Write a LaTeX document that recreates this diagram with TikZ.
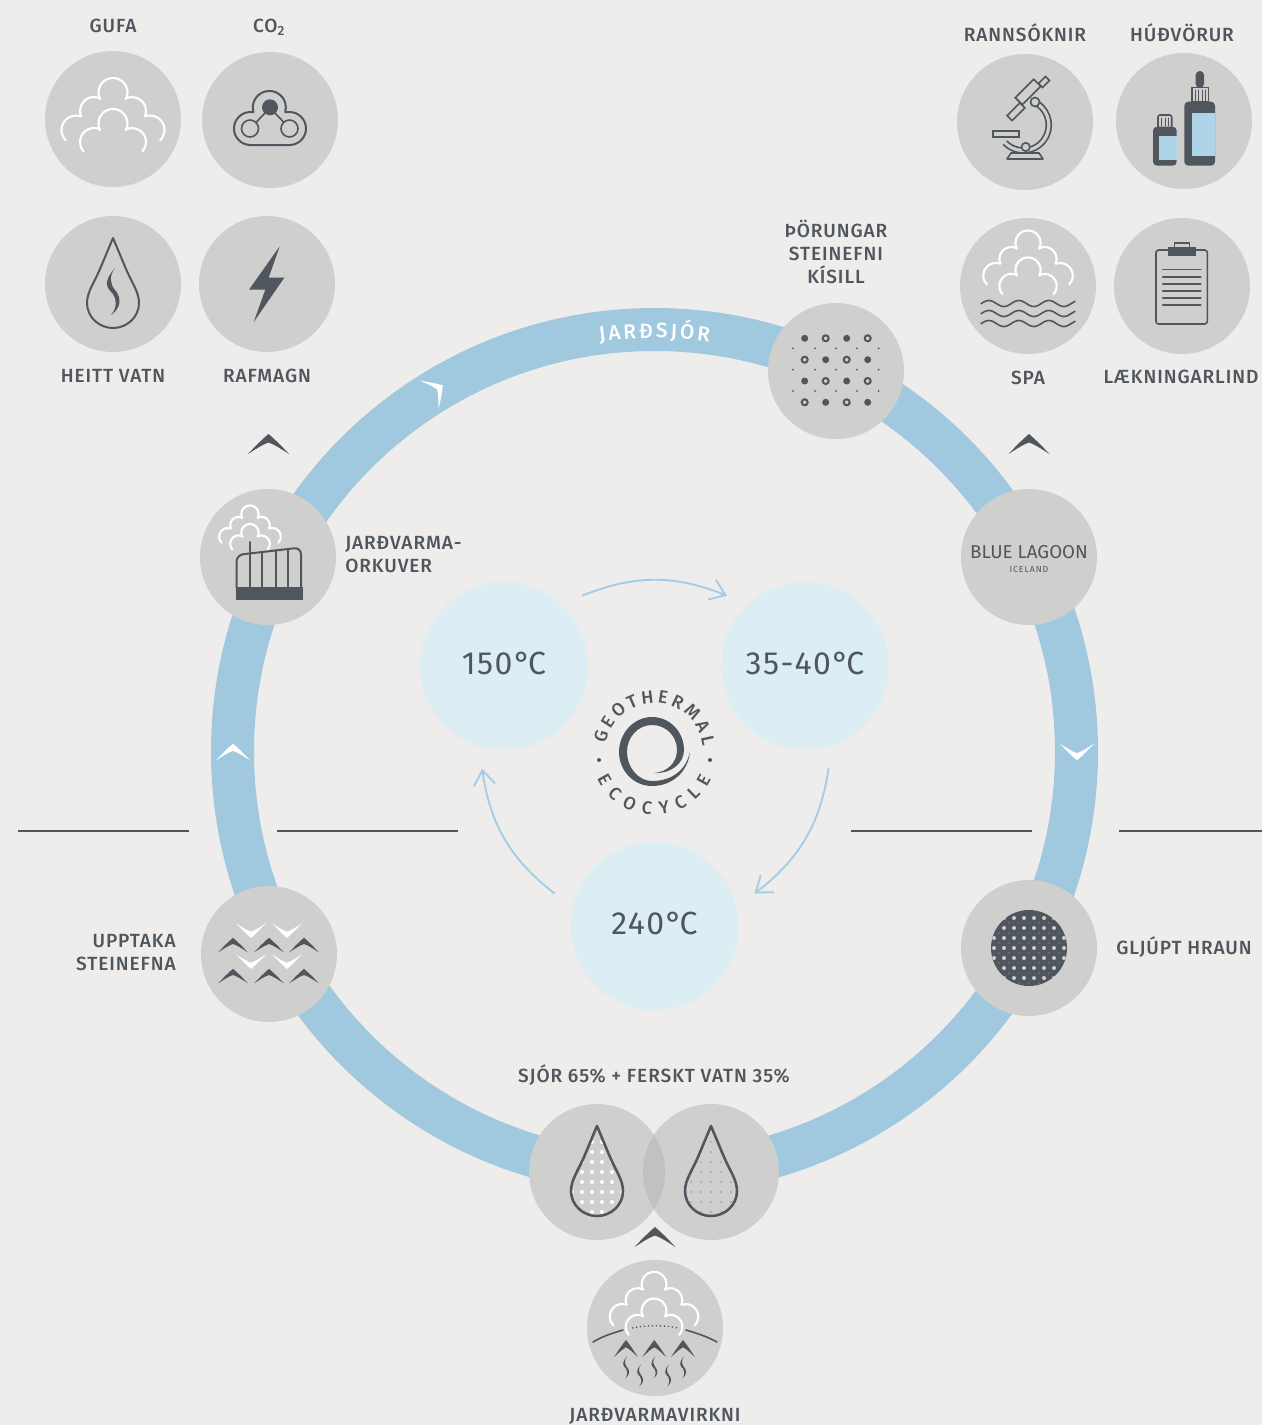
\documentclass[tikz,border=0pt]{standalone}
\usepackage{fontspec}
\usepackage{xcolor}
\usepackage{tikz}
\usetikzlibrary{arrows.meta,decorations.text}
\setmainfont[LetterSpace=4.8]{Fira Sans Medium}
\newfontfamily\ringfont{Fira Sans Medium}
\newfontfamily\plainfont{Fira Sans}
\newfontfamily\tempfont[LetterSpace=4.5]{Fira Sans}
\newfontfamily\smallfont[LetterSpace=10]{Fira Sans}
\definecolor{bg}{HTML}{EEEDEC}
\definecolor{disc}{HTML}{CFCFCD}
\definecolor{lens}{HTML}{BFC2C1}
\definecolor{ring}{HTML}{A0C8DF}
\definecolor{pale}{HTML}{DCEDF4}
\definecolor{flow}{HTML}{A3CDE5}
\definecolor{slate}{HTML}{50565E}
\definecolor{tag}{HTML}{AED4E8}
\newcommand{\dropoutline}{(0,-46) -- (13,-15) .. controls (19,-1) and (26,8) .. (26,19) .. controls (26,33) and (14,44) .. (0,44) .. controls (-14,44) and (-26,33) .. (-26,19) .. controls (-26,8) and (-19,-1) .. (-13,-15) -- cycle}
\tikzset{
  icon/.style={circle, fill=disc, minimum size=102pt, inner sep=0pt},
  temp/.style={circle, fill=pale, text=slate, minimum size=126pt, inner sep=0pt, outer sep=15.75pt, text depth=3.5pt, font=\tempfont\fontsize{24}{26}\selectfont},
  lab/.style={text=slate, inner sep=0pt, font=\fontsize{14.3}{17.25}\selectfont},
  arrowflow/.style={draw=flow, line width=1.4pt, -{Straight Barb[length=11pt,width=16pt]}},
  rule/.style={draw=slate, line width=1.9pt},
  cloudline/.style={draw=white, line width=1.6pt, line cap=round},
  dk/.style={draw=slate, line width=1.5pt, line join=round, line cap=round},
  thin/.style={draw=slate, line width=1.2pt, line cap=round},
  chevron/.pic={
    \fill[pic actions] (0,-10) .. controls (6,-5) and (13,2) .. (20.5,10) .. controls (14,6) and (7,1) .. (0,-1.5) .. controls (-7,1) and (-14,6) .. (-20.5,10) .. controls (-13,2) and (-6,-5) .. (0,-10) -- cycle;
  },
  cloudicon/.pic={
    \foreach \cx/\cy/\a/\b/\r in {0/-26.5/153/387/14.5,-19/-8/157/297/14,19/-8/243/383/14,-37/11/135/287/14.5,37/11/253/405/14.5,0/4.5/153/387/14.5,-19/23/138/297/14,19/23/243/402/14}
      \draw[cloudline] (\cx,\cy) ++(\a:\r) arc[start angle=\a,end angle=\b,radius=\r];
  },
  squiggle/.pic={
    \fill[slate] (2,-16) .. controls (-10,-2) and (-7,3) .. (0,10) .. controls (4,16) and (4,24) .. (-2,31) .. controls (8,24) and (9,14) .. (2,6) .. controls (-3,0) and (-4,-8) .. (2,-16) -- cycle;
  },
  co2icon/.pic={
    \draw[dk] (-16.5,-8) arc[start angle=164,end angle=376,radius=16.5] -- (19.5,-8) arc[start angle=270,end angle=450,radius=16.5] -- (-19.5,25) arc[start angle=90,end angle=270,radius=16.5] -- cycle;
    \draw[thin] (-20,8.5) circle[radius=8.5] (19.5,8.5) circle[radius=8.5] (-14,2.5) -- (-4,-8) (14,2.5) -- (4,-8);
    \fill[slate] (0,-12.7) circle[radius=8];
  },
  boltmark/.pic={
    \fill[slate] (12.7,-37.7) -- (-18,5.7) -- (-1.7,5.7) -- (-13.3,38) -- (17.3,-6.3) -- (1.7,-6.3) -- cycle;
  },
  microscope/.pic={
    \draw[thin, shift={(-9,-10.3)}, rotate=45] (-9,-3.5) rectangle (9,3.5);
    \draw[thin, shift={(3,-30)}, rotate=45] (-13,-5) rectangle (13,5);
    \draw[thin, shift={(19,-40)}, rotate=45] (-5,-2.8) rectangle (5,2.8);
    \draw[thin] (-1.7,3) ++(-55:28) arc[start angle=-55,end angle=135,radius=28];
    \draw[thin] (-1.7,3) ++(-55:23) arc[start angle=-55,end angle=135,radius=23];
    \draw[thin, fill=disc] (10,-20) circle[radius=4.5] (0.7,25) circle[radius=4.2];
    \draw[thin, fill=disc] (-32,8.7) rectangle (-6,15);
    \draw[thin, line join=round, fill=disc] (-18,37) -- (18,37) -- (14,31) -- (-14,31) -- cycle;
  },
  bottles/.pic={
    \fill[slate, rounded corners=3pt] (0.3,-19.3) rectangle (31,44.7);
    \fill[tag] (7.7,-8.3) rectangle (31,35);
    \draw[thin] (7.7,-33.7) rectangle (24.3,-19.3);
    \foreach \px in {11,14.5,18,21} \draw[thin, line width=.6pt] (\px,-31) -- (\px,-20);
    \fill[slate, rounded corners=3pt] (11.7,-50) rectangle (20,-33);
    \fill[slate, rounded corners=3pt] (-31,5.7) rectangle (-7.3,44.7);
    \fill[tag] (-25,14.7) rectangle (-7.3,39);
    \draw[thin, rounded corners=1.5pt] (-26,5.7) -- (-26,-6) -- (-12.3,-6) -- (-12.3,5.7);
    \foreach \px in {-22.5,-19,-15.5} \draw[thin, line width=.6pt] (\px,-3) -- (\px,5);
  },
  clipboard/.pic={
    \draw[thin, rounded corners=2pt] (-26,-36) rectangle (25.3,38);
    \draw[thin] (-7.7,-43.3) rectangle (7.3,-38.7);
    \fill[slate] (-14.3,-38.7) rectangle (14,-30.3);
    \foreach \wy in {-16.7,-9.3,-2.3,4.7,11.7,18.7} \draw[thin] (-19.3,\wy) -- (18.7,\wy);
  },
  wavelines/.pic={
    \foreach \wy in {17.5,27.5,37.5}
      \draw[thin] plot[domain=-47:47,samples=70,smooth] (\x,{\wy+3*sin(12*\x+20)});
  },
  plant/.pic={
    \fill[slate] (-32,30) rectangle (35,43);
    \draw[dk, rounded corners=5pt] (-31.5,31) -- (-31.5,-2) -- (33,-9.5) -- (33,31);
    \draw[dk] (-18,-15) -- (-18,31);
    \foreach \px/\py in {-5.7/-5,7.7/-6.6,20.3/-8} \draw[dk] (\px,\py) -- (\px,31);
  },
  mineralgrid/.pic={
    \foreach \py [count=\i] in {-32.7,-11.3,10,31.3}
      \foreach \px [count=\j] in {-31.3,-10.3,10.7,31.7} {
        \pgfmathparse{int(mod(\i+\j,2))}
        \ifnum\pgfmathresult=0
          \fill[slate] (\px,\py) circle[radius=3.5];
        \else
          \draw[slate, line width=1.5pt] (\px,\py) circle[radius=3];
        \fi
      }
    \foreach \py in {-22.7,-1.3,20}
      \foreach \px in {-43,-21,0,21,42.7}
        \fill[slate] (\px,\py) circle[radius=1];
  },
  lavaball/.pic={
    \fill[slate] (0,0) circle[radius=38];
    \begin{scope}
      \clip (0,0) circle[radius=38];
      \foreach \py in {-30,-20,...,30}
        \foreach \px in {-35,-25,...,35} {
          \fill[disc] (\px,\py) circle[radius=2];
          \fill[disc!70!slate] (\px+5,\py+5) circle[radius=.6];
        }
    \end{scope}
  },
  pics/waterdrop/.style n args={3}{code={
    \begin{scope}
      \clip \dropoutline;
      \foreach \py in {-30,-20,...,40}
        \foreach \px in {#3}
          \fill[#1] (\px,\py) circle[radius=#2];
    \end{scope}
    \draw[slate, line width=1.9pt, line join=round] \dropoutline;
  }},
  hotdrop/.pic={
    \draw[slate, line width=1.5pt, line join=round] \dropoutline;
    \pic at (0,0) {squiggle};
  },
}
\begin{document}
\begin{tikzpicture}[x=0.75pt,y=-0.75pt]
\useasboundingbox (0,0) rectangle (1262,1425);
\fill[bg] (0,0) rectangle (1262,1425);

\draw[ring, line width=32.25pt] (654.5,751.5) circle[radius=422];

\foreach \xa/\xb in {18/189,277/458,851/1032,1119/1262}
  \draw[rule] (\xa,831) -- (\xb,831);

\path[decorate, decoration={text along path, text align=fit to path, text={|\ringfont\fontsize{15.5}{17}\selectfont\color{white}|JARÐSJÓR}}]
  (654.5,751.5) ++(262.4:413.5) arc[start angle=262.4,end angle=277.6,radius=413.5];

\node[icon] (gufa) at (113,119) {};
\node[icon] (coii) at (270,120) {};
\node[icon] (heitt) at (113,284) {};
\node[icon] (rafmagn) at (267,284) {};
\node[icon] (rann) at (1025,122) {};
\node[icon] (hud) at (1184,121) {};
\node[icon] (spa) at (1028,286) {};
\node[icon] (laekn) at (1182,286) {};
\node[icon] (thorung) at (836,371) {};
\node[icon] (lagoon) at (1029,557) {};
\node[icon] (orkuver) at (268,557) {};
\node[icon] (upptaka) at (269,954) {};
\node[icon] (hraun) at (1029,948) {};
\node[icon] (sjor) at (597,1172) {};
\node[icon] (ferskt) at (711,1172) {};
\node[icon] (virkni) at (655,1328) {};
\begin{scope}
  \clip (sjor.center) circle[radius=68];
  \fill[lens] (ferskt.center) circle[radius=68];
\end{scope}

\pic at (gufa.center) {cloudicon};
\pic at (coii.center) {co2icon};
\pic at (heitt.center) {hotdrop};
\pic at (rafmagn.center) {boltmark};
\pic at (rann.center) {microscope};
\pic at (hud.center) {bottles};
\pic[scale=.87] at (1028,266) {cloudicon};
\pic at (spa.center) {wavelines};
\pic at (laekn.center) {clipboard};
\pic at (thorung.center) {mineralgrid};
\pic[scale=.6] at (250,530) {cloudicon};
\pic at (orkuver.center) {plant};
\pic at (hraun.center) {lavaball};
\pic at (sjor.center) {waterdrop={white}{2}{-25,-15,-5,5,15,25}};
\pic at (ferskt.center) {waterdrop={slate}{.6}{-20,-10,0,10,20}};
\pic[scale=.86] at (654,1307) {cloudicon};
\draw[dk, line width=1.2pt] (593,1342) .. controls (603,1336) and (613,1333) .. (623,1330);
\draw[dk, line width=1.2pt] (686,1330) .. controls (696,1333) and (706,1336) .. (717,1342);
\draw[slate, line width=1pt, dotted] (632,1328) .. controls (645,1325) and (665,1325) .. (678,1328);
\foreach \px in {-29,-.7,28}
  \pic[fill=slate, xscale=.58, yscale=.85] at (655+\px,1348.5) {chevron};
\foreach \px/\py in {-29/39,-15/47,-.7/39,13/47,28/39}
  \pic[scale=.47] at (655+\px,1325+\py) {squiggle};

\foreach \px in {-18,18}
  \foreach \py in {-23.3,7.7}
    \pic[fill=white, scale=.72, rotate=180] at (269+\px,954+\py) {chevron};
\foreach \px in {-36,0,35}
  \foreach \py in {-9,22}
    \pic[fill=slate, scale=.72] at (269+\px,954+\py) {chevron};

\pic[fill=slate] at (268.5,444) {chevron};
\pic[fill=slate] at (1029,444) {chevron};
\pic[fill=slate] at (655,1237) {chevron};
\pic[fill=white, scale=.83] at (233,752) {chevron};
\pic[fill=white, scale=.83, rotate=180] at (1077,752) {chevron};
\pic[fill=white, scale=.83, rotate=-56] at (436,390) {chevron};

\node[temp] (t150) at (504,666) {150°\kern-2pt C};
\node[temp] (t35) at (805,666) {35-40°\kern-2pt C};
\node[temp] (t240) at (654.5,926) {240°\kern-2pt C};
\draw[arrowflow] (t150.42) to[bend left=22] (t35.138);
\draw[arrowflow] (t35.-77) to[bend left=22] (t240.18);
\draw[arrowflow] (t240.162) to[bend left=22] (t150.-102);

\fill[slate] (690,752) .. controls (688,772) and (672,786) .. (652,786) .. controls (633,786) and (619,770) .. (619,752) .. controls (619,733) and (634,717) .. (652,717) .. controls (670,717) and (684,732) .. (684,750) .. controls (684,764) and (670,774) .. (654,773) .. controls (668,772) and (677,762) .. (677,750) .. controls (677,736) and (666,725) .. (652,725) .. controls (638,725) and (627,737) .. (627,752) .. controls (627,767) and (638,781) .. (652,781) .. controls (672,781) and (686,770) .. (690,752) -- cycle;
\path[decorate, decoration={text along path, text align=fit to path, text={|\ringfont\fontsize{13.5}{15}\selectfont\color{slate}|GEOTHERMAL}}]
  (654,752) ++(190:49) arc[start angle=190,end angle=353,radius=49];
\path[decorate, decoration={text along path, text align=fit to path, text={|\ringfont\fontsize{13.5}{15}\selectfont\color{slate}|ECOCYCLE}}]
  (654,752) ++(155:63) arc[start angle=155,end angle=25,radius=63];
\fill[slate] (599,760) circle[radius=2] (710,760) circle[radius=2];

\node[lab] (lgufa) at (113,26) {GUFA};
\node[lab] (lcoii) at (269,27) {CO\textsubscript{2}};
\node[lab] (lheitt) at (113,376) {HEITT VATN};
\node[lab] (lrafmagn) at (267,376) {RAFMAGN};
\node[lab] (lrann) at (1025,33) {RANNSÓKNIR};
\node[lab] (lhud) at (1182,33) {HÚÐVÖRUR};
\node[lab, align=center] (lthorung) at (836,252) {ÞÖRUNGAR\\STEINEFNI\\KÍSILL};
\node[lab] (lspa) at (1028,378) {SPA};
\node[lab] (llaekn) at (1181,377) {LÆKNINGARLIND};
\node[lab, align=left, anchor=west] (lorkuver) at (345,555) {JARÐVARMA-\\ORKUVER};
\node[lab, align=right, anchor=east] (lupptaka) at (176,953) {UPPTAKA\\STEINEFNA};
\node[lab, anchor=west] (lhraun) at (1116,947) {GLJÚPT HRAUN};
\node[lab] (lsjor) at (654,1075) {SJÓR 65\% + FERSKT VATN 35\%};
\node[lab] (lvirkni) at (655,1416) {JARÐVARMAVIRKNI};
\node[lab, font=\plainfont\fontsize{14}{16}\selectfont] (lblue) at (1029,552) {BLUE LAGOON};
\node[lab, font=\smallfont\fontsize{6.6}{8}\selectfont] (lice) at (1029,569) {ICELAND};
\end{tikzpicture}
\end{document}
